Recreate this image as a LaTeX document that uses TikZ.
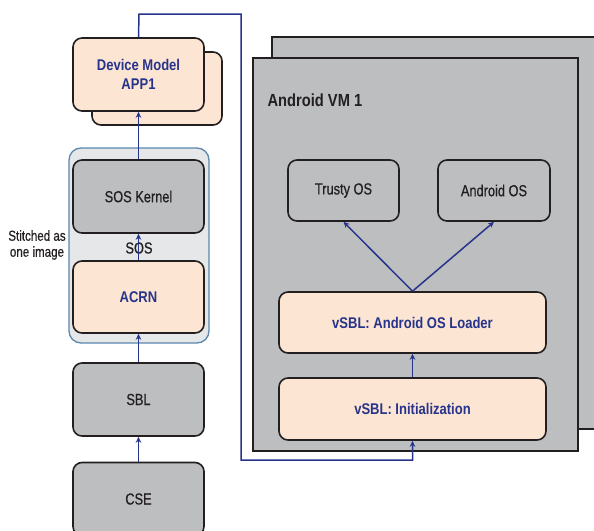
\documentclass[tikz,border=0pt]{standalone}
\usepackage{fontspec}
\setmainfont{Liberation Sans}[FakeStretch=0.84]
\newfontfamily\medfont{Liberation Sans}[FakeStretch=0.8, FakeBold=0.6]
\usetikzlibrary{arrows.meta}
\definecolor{peach}{HTML}{FDE5D3}
\definecolor{boxgray}{HTML}{BCBEC0}
\definecolor{sosgray}{HTML}{E6E7E8}
\definecolor{sosedge}{HTML}{5B87B0}
\definecolor{navy}{HTML}{27348B}
\definecolor{dark}{HTML}{231F20}
\tikzset{
  box/.style={draw=dark, line width=1.6pt, rounded corners=9pt, fill=boxgray, font=\medfont\fontsize{16}{18}\selectfont, text=dark, inner sep=0pt, align=center},
  pbox/.style={box, fill=peach, text=navy, font=\fontsize{15.5}{19}\selectfont\bfseries},
  link/.style={draw=navy, line width=1.5pt, -{Stealth[length=6pt,width=5.5pt]}},
  vmbox/.style={draw=dark, line width=1.6pt, fill=boxgray}
}
\begin{document}
\begin{tikzpicture}[x=1pt,y=-1pt]
\useasboundingbox (0,0) rectangle (594,530);
\clip (0,0) rectangle (594,530);
% Android VM stack
\draw[vmbox] (272,37) rectangle (610,429);
\draw[vmbox] (253,58) rectangle (578,451);
\node[anchor=west, font=\fontsize{17.5}{20}\selectfont\bfseries, text=dark] (vmlabel) at (264,100) {Android VM 1};
\node[box, minimum width=111pt, minimum height=61pt] (trusty) at (343.5,190.5) {Trusty OS};
\node[box, minimum width=112pt, minimum height=61pt] (aos) at (494,190.5) {Android OS};
\node[pbox, minimum width=267pt, minimum height=61pt] (loader) at (412.5,322.5) {vSBL: Android OS Loader};
\node[pbox, minimum width=267pt, minimum height=62pt] (init) at (412.5,409) {vSBL: Initialization};
% SOS container
\draw[draw=sosedge, line width=1.3pt, fill=sosgray, rounded corners=12pt] (69,148) rectangle (209,343);
\node[box, minimum width=131pt, minimum height=73pt] (kernel) at (138.5,196.5) {SOS Kernel};
\node[pbox, minimum width=131pt, minimum height=72pt] (acrn) at (138.5,297) {ACRN};
\node[font=\medfont\fontsize{16}{18}\selectfont, text=dark] (sos) at (139,248) {SOS};
\node[font=\medfont\fontsize{14.5}{16}\selectfont, text=dark, align=center] (stitch) at (37,245) {Stitched as\\one image};
% Device model
\node[pbox, minimum width=130pt, minimum height=73pt] (dmback) at (157,88.5) {};
\node[pbox, minimum width=131pt, minimum height=73pt] (dm) at (138.5,74.5) {Device Model\\APP1};
% Bottom boxes
\node[box, minimum width=131pt, minimum height=73pt] (sbl) at (138.5,399.5) {SBL};
\node[box, minimum width=131pt, minimum height=73pt] (cse) at (138.5,499) {CSE};
% Connectors
\draw[link] (cse) -- (sbl);
\draw[link] (sbl) -- (acrn);
\draw[link] (acrn) -- (kernel);
\draw[link] (kernel) -- (dm);
\draw[link] (init) -- (loader);
\draw[link] (loader.north) -- (trusty.south);
\draw[link] (loader.north) -- (aos.south);
\coordinate (c1) at (139,14);
\coordinate (c2) at (241,14);
\coordinate (c3) at (241,460);
\coordinate (c4) at (412.5,460);
\draw[link] (dm.north) -- (c1) -- (c2) -- (c3) -- (c4) -- (init.south);
\end{tikzpicture}
\end{document}
